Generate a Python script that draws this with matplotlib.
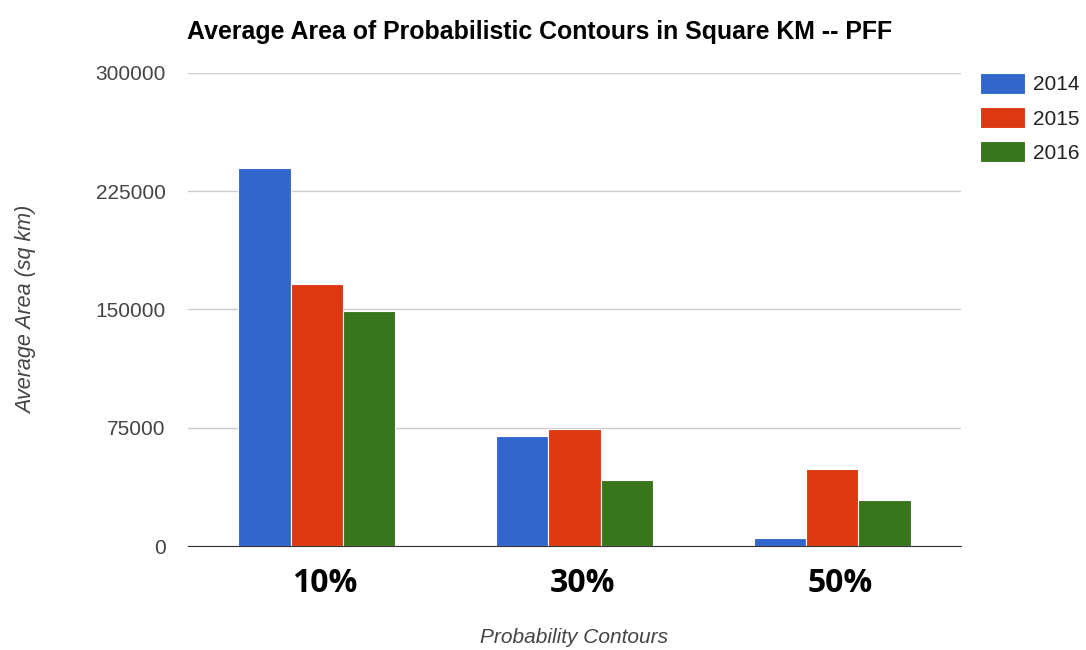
import numpy as np
import matplotlib.pyplot as plt
from matplotlib.transforms import ScaledTranslation

# mean contour areas per year (sq km)
contours = ["10%", "30%", "50%"]
years = ["2014", "2015", "2016"]
area_2014 = [240000, 70000, 5000]
area_2015 = [166000, 74000, 49000]
area_2016 = [149000, 42000, 29000]
colors = ["#3366cc", "#dc3912", "#38761d"]

fig = plt.figure(figsize=(10.86, 6.5), dpi=100)
ax = fig.add_axes([0.173, 0.16, 0.712, 0.7277])

x = np.arange(len(contours))
w = 0.203
for i, (vals, yr) in enumerate(zip([area_2014, area_2015, area_2016], years)):
    ax.bar(x + (i - 1) * w, vals, width=w, color=colors[i], label=yr,
           edgecolor="white", linewidth=0.8, zorder=3)

ax.set_xlim(-0.5, 2.5)
ax.set_ylim(0, 300000)
ax.set_yticks([0, 75000, 150000, 225000, 300000])
ax.set_yticklabels(["0", "75000", "150000", "225000", "300000"])
ax.grid(axis="y", color="#cccccc", linewidth=1, zorder=0)
for s in ["top", "right", "left"]:
    ax.spines[s].set_visible(False)
ax.spines["bottom"].set_color("#333333")
ax.spines["bottom"].set_zorder(4)
ax.tick_params(axis="y", length=0, pad=16, labelsize=15, labelcolor="#444444")
ax.tick_params(axis="x", length=0, pad=15)
ax.set_xticks(x)
ax.set_xticklabels(contours, fontsize=23, fontweight="bold", family="Open Sans")
shift = ScaledTranslation(8 / 100, 0, fig.dpi_scale_trans)
for lab in ax.get_xticklabels():
    lab.set_transform(lab.get_transform() + shift)
for lab in ax.get_yticklabels():
    lab.set_family("Liberation Sans")

ax.set_xlabel("Probability Contours", fontsize=15, style="italic", color="#444444",
              family="Liberation Sans", labelpad=20)
ax.set_ylabel("Average Area (sq km)", fontsize=15.5, style="italic", color="#444444",
              family="Liberation Sans", labelpad=42)
fig.text(0.172, 0.95, "Average Area of Probabilistic Contours in Square KM -- PFF",
         fontsize=17.9, fontweight="bold", family="Liberation Sans", va="center")

leg = ax.legend(loc="upper left", bbox_to_anchor=(1.0, 1.04), frameon=False,
                prop={"family": "Liberation Sans", "size": 15},
                handlelength=2.15, handleheight=1.15, labelspacing=0.62, handletextpad=0.4)
for t in leg.get_texts():
    t.set_color("#222222")

fig.savefig("out.png", dpi=100)
